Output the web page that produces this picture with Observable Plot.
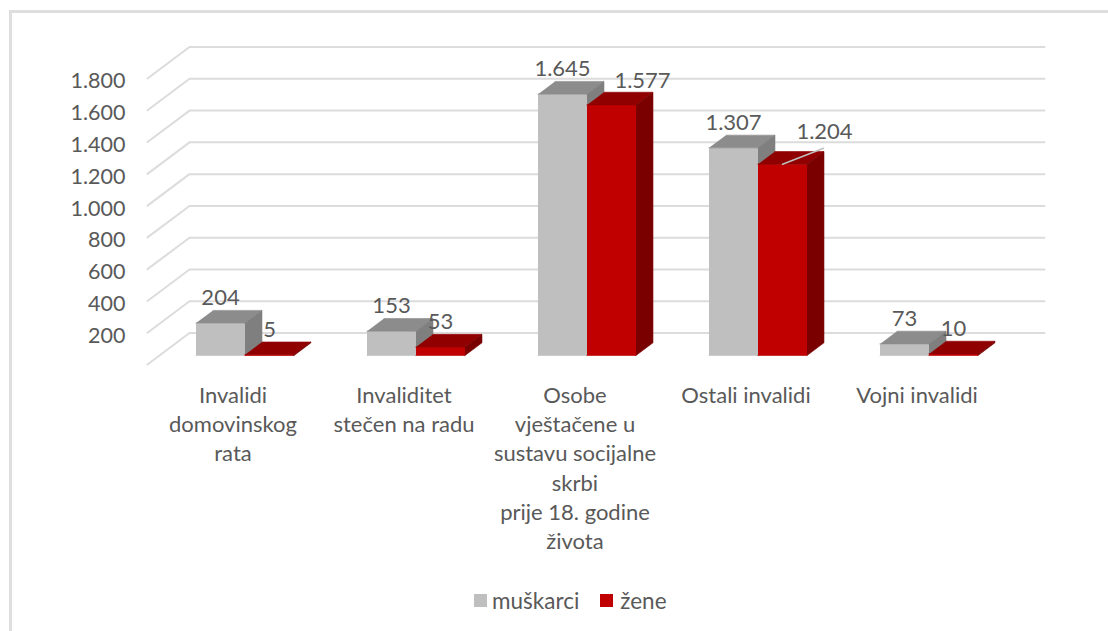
<!DOCTYPE html>
<html>
<head>
<meta charset="utf-8">
<script src="https://cdn.jsdelivr.net/npm/d3@7"></script>
<script src="https://cdn.jsdelivr.net/npm/@observablehq/plot@0.6"></script>
<style>
html,body{margin:0;padding:0;background:#fff;overflow:hidden}
#wrap{position:relative;width:1108px;height:631px}
#frame{position:absolute;left:9px;top:10px;right:0;bottom:0;border-left:3px solid #dedede;border-top:3px solid #dedede;box-sizing:border-box;pointer-events:none}
svg{display:block;position:relative}
#legend{display:flex;align-items:center;height:24px;margin-left:474px;font:22.5px Lato,sans-serif;color:#595959;position:relative}
#legend i{display:inline-block;width:13px;height:13px;margin-right:5px}
#legend i + i, #legend i.second{margin-left:21px;margin-right:7px}
</style>
</head>
<body>
<div id="wrap"><div id="frame"></div></div>
<script>
const categories = [
  "Invalidi\ndomovinskog\nrata",
  "Invaliditet\nstečen na radu",
  "Osobe\nvještačene u\nsustavu socijalne\nskrbi\nprije 18. godine\nživota",
  "Ostali invalidi",
  "Vojni invalidi"
];
const muskarci = [204, 153, 1645, 1307, 73];
const zene = [5, 53, 1577, 1204, 10];
const seriesNames = ["muškarci", "žene"];
const yTicks = [0, 200, 400, 600, 800, 1000, 1200, 1400, 1600, 1800];

const fmt = v => d3.format(",")(v).replace(/,/g, ".");
const FONT = "Lato, sans-serif";
const INK = "#595959";

// Oblique projection, expressed in data units so that everything goes through the scales
const KX = 42 / 171;
const KY = 198;
const project = (x, v, d) => ({x: x + d * KX, y: v + d * KY});
const D0 = 0.286, D1 = 0.69, BW = 49 / 171;

const palettes = [
  {front: "#bfbfbf", top: "#8c8c8c", side: "#7f7f7f"},
  {front: "#c00000", top: "#900000", side: "#7a0000"}
];

const grid = yTicks.flatMap(v => [
  {...project(0, v, 0), v}, {...project(0, v, 1), v}, {...project(5, v, 1), v}
]);

const faces = [];
const labels = [];
categories.forEach((c, i) => {
  [muskarci[i], zene[i]].forEach((v, s) => {
    const a = i + (171 - 98) / 2 / 171 + s * BW;
    const b = a + BW;
    const p = palettes[s];
    const add = (name, color, pts) => pts.forEach(q => faces.push({...q, id: `${i}-${s}-${name}`, color}));
    add("front", p.front, [project(a, 0, D0), project(b, 0, D0), project(b, v, D0), project(a, v, D0)]);
    add("top", p.top, [project(a, v, D0), project(b, v, D0), project(b, v, D1), project(a, v, D1)]);
    add("side", p.side, [project(b, 0, D0), project(b, 0, D1), project(b, v, D1), project(b, v, D0)]);
    labels.push({...project(a + BW / 2, v, D0), v, key: `${i}-${s}`});
  });
});
const moved = {"2-1": [31, -24], "3-1": [42, -32]};
const isMoved = d => d.key in moved;
const leader = labels.filter(d => d.key === "3-1").flatMap(d => [
  {x: d.x, y: d.y}, {x: d.x + 41 / 171, y: d.y + 100}
]);

const plot = Plot.plot({
  width: 1108,
  height: 588,
  marginTop: 20, marginBottom: 0, marginLeft: 0, marginRight: 0,
  style: {background: "transparent", fontFamily: FONT},
  x: {type: "linear", domain: [0, 5], range: [147, 1002], axis: null},
  y: {type: "linear", domain: [0, 1800], range: [364, 78], axis: null},
  marks: [
    Plot.line(grid, {x: "x", y: "y", z: "v", stroke: "#dcdcdc", strokeWidth: 2}),
    Plot.text(yTicks.filter(v => v > 0), {
      x: () => 0, y: d => d, text: d => fmt(d), textAnchor: "end", dx: -22, dy: 3,
      fontSize: 21.5, fontFamily: FONT, fill: INK
    }),
    Plot.line(faces, {x: "x", y: "y", z: "id", fill: "color", stroke: "color", strokeWidth: 0.6}),
    Plot.line(leader, {x: "x", y: "y", stroke: "#bfbfbf", strokeWidth: 1.5}),
    Plot.text(labels.filter(d => !isMoved(d)), {
      x: "x", y: "y", text: d => fmt(d.v), dy: -25, fontSize: 22, fontFamily: FONT, fill: INK
    }),
    ...labels.filter(isMoved).map(d => Plot.text([d], {
      x: "x", y: "y", text: e => fmt(e.v), dx: moved[d.key][0], dy: moved[d.key][1],
      fontSize: 22, fontFamily: FONT, fill: INK
    })),
    Plot.axisX(categories.map((c, i) => i + 0.5), {
      anchor: "bottom", label: null, tickSize: 0,
      tickFormat: v => categories[v - 0.5],
      ticks: categories.map((c, i) => i + 0.5),
      fontSize: 22, fontFamily: FONT, fill: INK, lineHeight: 1.33,
      lineAnchor: "top", textOverflow: null, marginBottom: 0, tickPadding: 0,
      y: -111
    })
  ]
});

const wrap = document.getElementById("wrap");
wrap.insertBefore(plot, wrap.firstChild);
const legend = document.createElement("div");
legend.id = "legend";
seriesNames.forEach((n, i) => {
  const sw = document.createElement("i");
  sw.style.background = palettes[i].front;
  if (i) sw.className = "second";
  legend.append(sw, document.createTextNode(n));
});
wrap.insertBefore(legend, plot.nextSibling);
</script>
</body>
</html>
